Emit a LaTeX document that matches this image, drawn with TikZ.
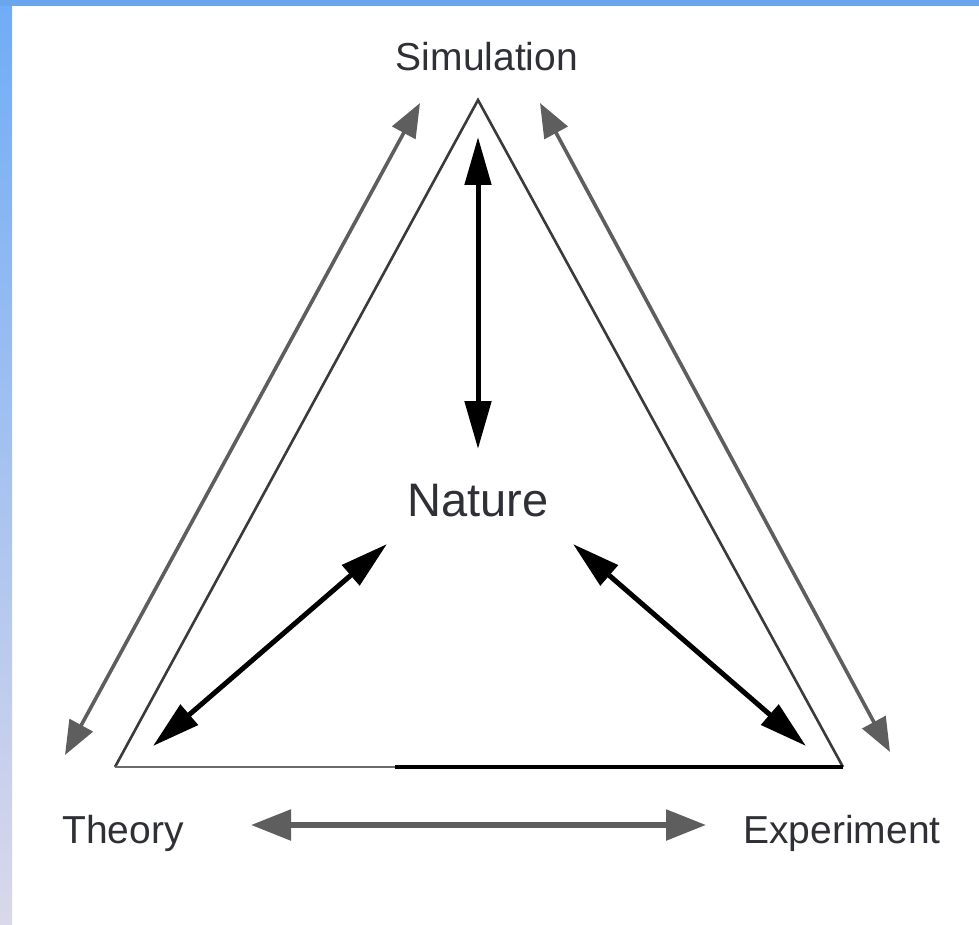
\documentclass[tikz,border=0pt]{standalone}
\usepackage{fontspec}
\setmainfont{Liberation Sans}
\usetikzlibrary{arrows.meta}
\definecolor{txt}{HTML}{2E3036}
\definecolor{garrow}{HTML}{5E5E5E}
\definecolor{edge}{HTML}{3A3A3A}
\definecolor{bluetop}{HTML}{6AA6EE}
\definecolor{blueleft}{HTML}{70ACF6}
\definecolor{lavender}{HTML}{DAD8EA}
\tikzset{
  lbl/.style={text=txt, font=\fontsize{39}{44}\selectfont, inner sep=0pt, anchor=base},
  grayarr/.style={draw=garrow, line width=3.6pt, {Triangle[length=34pt,width=26pt]}-{Triangle[length=34pt,width=26pt]}},
  blackarr/.style={draw=black, line width=5pt, {Triangle[length=48pt,width=26pt]}-{Triangle[length=48pt,width=26pt]}},
  bottomarr/.style={draw=garrow, line width=5.5pt, {Triangle[length=40pt,width=30pt]}-{Triangle[length=40pt,width=30pt]}},
  triedge/.style={draw=edge, line width=2.6pt, line join=miter}
}
\begin{document}
\begin{tikzpicture}[x=1pt,y=-1pt]
\useasboundingbox (0,0) rectangle (979,925);
\fill[white] (0,0) rectangle (979,925);
% frame strips
\shade[top color=blueleft, bottom color=lavender] (0,0) rectangle (12,925);
\fill[bluetop] (0,0) rectangle (979,6);

% triangle corners
\coordinate (apex) at (478,100);
\coordinate (bl) at (115,767);
\coordinate (br) at (843,767);
\coordinate (bm) at (395,767);
\draw[triedge] (bl) -- (apex) -- (br);
\draw[draw=edge!75, line width=2.6pt] (bl) -- (bm);
\draw[draw=black, line width=4.2pt] (bm) -- (br);

% labels
\node[lbl] (sim) at (487,71) {Simulation};
\node[lbl, font=\fontsize{47}{52}\selectfont] (nat) at (478,516) {Nature};
\node[lbl] (the) at (123,843) {Theory};
\node[lbl] (exp) at (842,843) {Experiment};

% arrow ends
\coordinate (sl1) at (420,103);
\coordinate (sl2) at (65,755);
\coordinate (sr1) at (540,103);
\coordinate (sr2) at (890,752);
\coordinate (v1) at (478,137);
\coordinate (v2) at (478,449);
\coordinate (l1) at (387,544);
\coordinate (l2) at (153,746);
\coordinate (r1) at (573,544);
\coordinate (r2) at (806,746);
\coordinate (b1) at (251,825);
\coordinate (b2) at (706,825);

\draw[grayarr] (sl1) -- (sl2);
\draw[grayarr] (sr1) -- (sr2);
\draw[blackarr] (v1) -- (v2);
\draw[blackarr] (l1) -- (l2);
\draw[blackarr] (r1) -- (r2);
\draw[bottomarr] (b1) -- (b2);
\end{tikzpicture}
\end{document}
